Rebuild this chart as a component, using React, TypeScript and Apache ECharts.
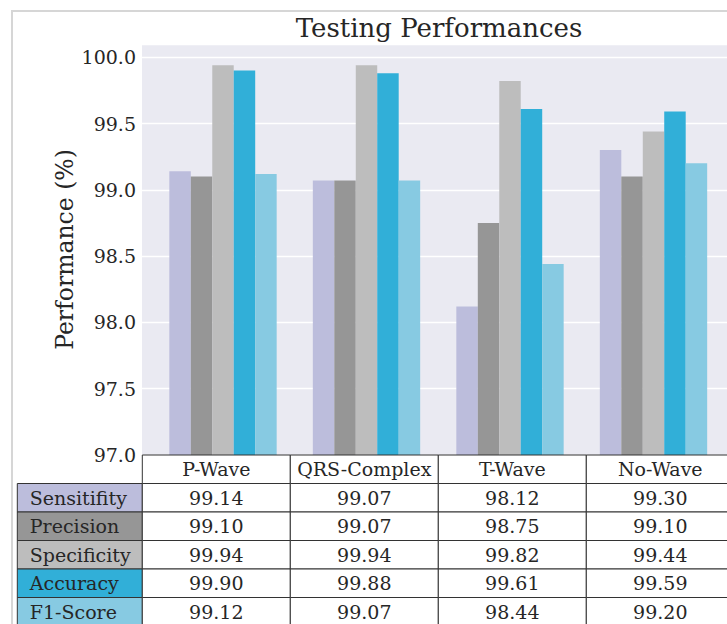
import React, { useEffect, useRef } from "react";
import * as echarts from "echarts";

const categories = ["P-Wave", "QRS-Complex", "T-Wave", "No-Wave"];
const metricNames = ["Sensitifity", "Precision", "Specificity", "Accuracy", "F1-Score"];
const sensitivity = [99.14, 99.07, 98.12, 99.3];
const precision = [99.1, 99.07, 98.75, 99.1];
const specificity = [99.94, 99.94, 99.82, 99.44];
const accuracy = [99.9, 99.88, 99.61, 99.59];
const f1Score = [99.12, 99.07, 98.44, 99.2];
const metricValues = [sensitivity, precision, specificity, accuracy, f1Score];
const colors = ["#bcbddc", "#969696", "#bdbdbd", "#31afd8", "#87cae2"];

const FONT = "DejaVu Serif";
const TXT = "#262626";

export default function App() {
  const ref = useRef<HTMLDivElement>(null);
  useEffect(() => {
    if (!ref.current) return;
    const chart = echarts.init(ref.current, null, { renderer: "svg" });

    const tableTop = 455;
    const rowH = 28.5;
    const labelLeft = 17.3;
    const labelW = 125;
    const colLeft = 142.3;
    const colW = 148;
    const border = { stroke: "#333", lineWidth: 1 };
    const tableFont = `19px "${FONT}"`;

    const graphics: any[] = [];
    // figure frame
    graphics.push({
      type: "rect",
      shape: { x: 12, y: 11, width: 800, height: 700 },
      style: { fill: "none", stroke: "#d6d6d6", lineWidth: 2 },
      z: 0,
      silent: true,
    });
    // header row
    categories.forEach((c, j) => {
      const x = colLeft + j * colW;
      graphics.push({
        type: "rect",
        shape: { x, y: tableTop, width: colW, height: rowH },
        style: { fill: "#fff", ...border },
        z: 10,
      });
      graphics.push({
        type: "text",
        x: x + colW / 2,
        y: tableTop + rowH / 2,
        style: {
          text: c,
          font: tableFont,
          fill: TXT,
          textAlign: "center",
          textVerticalAlign: "middle",
        },
        z: 11,
      });
    });
    metricNames.forEach((m, i) => {
      const y = tableTop + rowH * (i + 1);
      graphics.push({
        type: "rect",
        shape: { x: labelLeft, y, width: labelW, height: rowH },
        style: { fill: colors[i], ...border },
        z: 10,
      });
      graphics.push({
        type: "text",
        x: labelLeft + labelW * 0.1,
        y: y + rowH / 2,
        style: {
          text: m,
          font: tableFont,
          fill: TXT,
          textAlign: "left",
          textVerticalAlign: "middle",
        },
        z: 11,
      });
      metricValues[i].forEach((v, j) => {
        const x = colLeft + j * colW;
        graphics.push({
          type: "rect",
          shape: { x, y, width: colW, height: rowH },
          style: { fill: "#fff", ...border },
          z: 10,
        });
        graphics.push({
          type: "text",
          x: x + colW / 2,
          y: y + rowH / 2,
          style: {
            text: v.toFixed(2),
            font: tableFont,
            fill: TXT,
            textAlign: "center",
            textVerticalAlign: "middle",
          },
          z: 11,
        });
      });
    });

    const option: any = {
      animation: false,
      backgroundColor: "#fff",
      textStyle: { fontFamily: FONT },
      title: {
        text: "Testing Performances",
        left: 434,
        top: 10,
        textAlign: "center",
        textStyle: { fontFamily: FONT, fontSize: 26, fontWeight: "normal", color: TXT },
      },
      grid: [
        { left: 142, top: 44, width: 592, height: 411, show: true, backgroundColor: "#eaeaf2", borderWidth: 0 },
        { left: 151.25, top: 44, width: 574, height: 411, show: false },
      ],
      xAxis: [
        { type: "category", gridIndex: 0, data: categories, show: false },
        { type: "category", gridIndex: 1, data: categories, show: false },
      ],
      yAxis: [
        {
          type: "value",
          gridIndex: 0,
          min: 97,
          max: 100.1,
          interval: 0.5,
          axisLine: { show: false },
          axisTick: { show: false },
          splitLine: { show: true, lineStyle: { color: "#ffffff", width: 1.3 } },
          axisLabel: {
            showMaxLabel: false,
            margin: 6,
            fontFamily: FONT,
            fontSize: 19,
            color: TXT,
            formatter: (v: number) => v.toFixed(1),
          },
          name: "Performance (%)",
          nameLocation: "middle",
          nameRotate: 90,
          nameGap: 65,
          nameMoveOverlap: false,
          nameTextStyle: { fontFamily: FONT, fontSize: 23.5, color: TXT },
        },
        { type: "value", gridIndex: 1, min: 97, max: 100.1, show: false, splitLine: { show: false } },
      ],
      series: metricNames.map((m, i) => ({
        name: m,
        type: "bar",
        xAxisIndex: 1,
        yAxisIndex: 1,
        data: metricValues[i],
        barGap: "0%",
        barCategoryGap: "25.2%",
        itemStyle: { color: colors[i] },
        clip: true,
      })),
      graphic: graphics,
    };
    chart.setOption(option);
    return () => chart.dispose();
  }, []);
  return (
    <div
      ref={ref}
      style={{ position: "fixed", left: 0, top: 0, width: 727, height: 624 }}
    />
  );
}
